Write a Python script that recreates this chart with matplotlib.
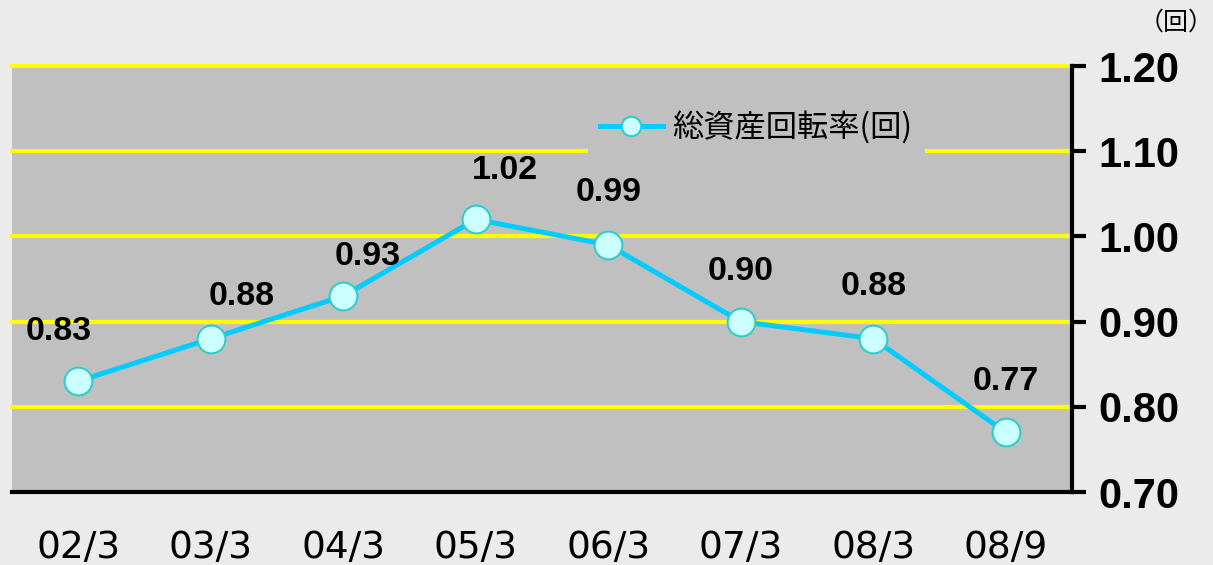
import matplotlib
matplotlib.use("Agg")
import matplotlib.pyplot as plt
from matplotlib.lines import Line2D

categories = ["02/3", "03/3", "04/3", "05/3", "06/3", "07/3", "08/3", "08/9"]
values = [0.83, 0.88, 0.93, 1.02, 0.99, 0.90, 0.88, 0.77]
label_texts = ["0.83", "0.88", "0.93", "1.02", "0.99", "0.90", "0.88", "0.77"]
y_ticks = [0.70, 0.80, 0.90, 1.00, 1.10, 1.20]
y_tick_labels = ["0.70", "0.80", "0.90", "1.00", "1.10", "1.20"]
series_name = "総資産回転率(回)"
unit_text = "（回）"

# label offsets in pixels (x, y)
label_offsets = [(-20, 50), (31, 42), (24, 40), (29, 49), (0, 52), (0, 50), (0, 52), (0, 51)]

W, H = 1213, 565
fig = plt.figure(figsize=(W / 100, H / 100), dpi=100)
fig.patch.set_facecolor("#ebebeb")
ax = fig.add_axes([12 / W, (H - 492) / H, (1072 - 12) / W, (492 - 66) / H])
ax.set_facecolor("#c0c0c0")

x = list(range(len(categories)))
ax.set_xlim(-0.5, len(categories) - 0.5)
ax.set_ylim(0.70, 1.20)

for yv in y_ticks[1:]:
    ax.axhline(yv, color="#ffff00", lw=3, zorder=1, clip_on=False)

ax.plot(x, values, color="#00ccff", lw=3.6, marker="o", markersize=20,
        markerfacecolor="#ccffff", markeredgecolor="#33cccc", markeredgewidth=1.5,
        zorder=3, clip_on=False)

for xi, v, t, (dx, dy) in zip(x, values, label_texts, label_offsets):
    ax.annotate(t, (xi, v), xytext=(dx * 0.72, dy * 0.72), textcoords="offset points",
                ha="center", va="center", fontsize=24.5, fontweight="bold",
                family="Liberation Sans", color="black", zorder=4)

ax.yaxis.tick_right()
ax.set_yticks(y_ticks)
ax.set_yticklabels(y_tick_labels, fontsize=30, fontweight="bold", family="Liberation Sans")
ax.tick_params(axis="y", direction="out", length=10, width=3, pad=9, colors="black")
ax.set_xticks(x)
ax.set_xticklabels(categories, fontsize=27, family="DejaVu Sans")
ax.tick_params(axis="x", length=0, pad=27)

for s in ["left", "top"]:
    ax.spines[s].set_visible(False)
for s in ["right", "bottom"]:
    ax.spines[s].set_linewidth(3)
    ax.spines[s].set_color("black")
    ax.spines[s].set_zorder(5)

handle = Line2D([], [], color="#00ccff", lw=3.6, marker="o", markersize=14,
                markerfacecolor="#ccffff", markeredgecolor="#33cccc", markeredgewidth=1.5)
leg = ax.legend([handle], [series_name], loc="upper left",
                bbox_to_anchor=((572 - 12) / 1060, (492 - 83) / 426),
                frameon=True, fancybox=False, framealpha=1, borderpad=0.4,
                handlelength=2.0, handletextpad=0.3,
                prop={"family": ["Noto Sans CJK JP", "DejaVu Sans"], "size": 22.5})
leg.get_frame().set_facecolor("#c0c0c0")
leg.get_frame().set_edgecolor("none")
leg.set_zorder(6)

fig.text(1176 / W, 1 - 23 / H, unit_text, ha="center", va="center", fontsize=18,
         family=["Noto Sans CJK JP", "DejaVu Sans"])

fig.savefig("out.png", dpi=100, facecolor=fig.get_facecolor())
